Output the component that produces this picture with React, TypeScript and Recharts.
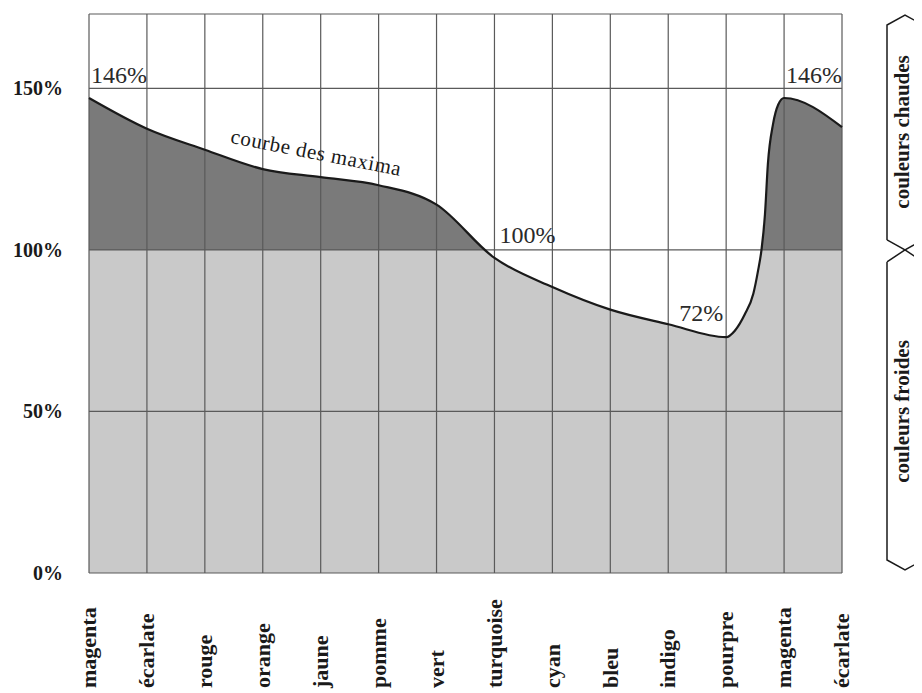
import React from 'react';
import {
  Area,
  ComposedChart,
  Line,
  ReferenceDot,
  ReferenceLine,
  XAxis,
  YAxis,
} from 'recharts';

const CATEGORIES = [
  'magenta', 'écarlate', 'rouge', 'orange', 'jaune', 'pomme', 'vert',
  'turquoise', 'cyan', 'bleu', 'indigo', 'pourpre', 'magenta', 'écarlate',
];
// positions along the colour wheel (category index) and max saturation in %
const CURVE_POS = [0, 1, 2, 3, 4, 5, 6, 7, 8, 9, 10, 11, 11.15, 11.32, 11.47, 11.55, 11.61, 11.67, 11.72, 11.81, 11.9, 12, 13];
const CURVE_PCT = [147, 137.5, 131, 125, 122.5, 120, 114, 97.5, 88.5, 81.5, 77, 73, 75, 80, 86.5, 93.5, 100, 111, 126.5, 139, 145, 147, 138];
const Y_TICKS = [0, 50, 100, 150];
const Y_MAX = 173;
const SPLIT = 100;

const CALLOUT_TEXT = ['146%', '146%', '100%', '72%'];
const CALLOUT_POS = [0, 12, 7, 11];
const CALLOUT_PCT = [147, 147, 100, 73];

const W = 914;
const H = 685;
const TOP = 6;
const LEFT = 81;
const RIGHT = 80;
const X_AXIS_H = 120;
const PLOT_H = H - TOP - X_AXIS_H;

const SERIF = "'Liberation Serif', 'Times New Roman', serif";
const GRID = '#5a5a5a';

const data = CURVE_POS.map((x, i) => ({ x, v: CURVE_PCT[i] }));
const xTicks = CATEGORIES.map((_, i) => i);

// small pixel nudges for each callout: [dx, dy, anchor]
const CALLOUT_NUDGE: [number, number, 'start' | 'end'][] = [
  [2, -15, 'start'],
  [2, -15, 'start'],
  [5, -7, 'start'],
  [-3, -16, 'end'],
];

export default function App() {
  const y100 = TOP + PLOT_H * (1 - SPLIT / Y_MAX);
  const plotBottom = TOP + PLOT_H;
  const bx = 897;

  return (
    <div style={{ position: 'relative', width: W, height: H }}>
      <ComposedChart
        width={W}
        height={H}
        data={data}
        margin={{ top: TOP, right: RIGHT, left: LEFT - 60, bottom: 0 }}
      >
        <defs>
          <linearGradient id="splitFill" gradientUnits="userSpaceOnUse" x1="0" y1={TOP} x2="0" y2={plotBottom}>
            <stop offset={1 - SPLIT / Y_MAX} stopColor="#7a7a7a" />
            <stop offset={1 - SPLIT / Y_MAX} stopColor="#c9c9c9" />
          </linearGradient>
        </defs>
        <XAxis
          dataKey="x"
          type="number"
          domain={[0, CATEGORIES.length - 1]}
          ticks={xTicks}
          interval={0}
          height={X_AXIS_H}
          axisLine={false}
          tickLine={false}
          tickSize={0}
          tickMargin={0}
          tick={(p: any) => (
            <text
              x={p.x}
              y={plotBottom + 115}
              transform={`rotate(-90, ${p.x}, ${plotBottom + 115})`}
              textAnchor="start"
              dy="0.33em"
              fontFamily={SERIF}
              fontWeight="bold"
              fontSize={22}
              fill="#1a1a1a"
            >
              {CATEGORIES[p.payload.value]}
            </text>
          )}
        />
        <YAxis
          type="number"
          domain={[0, Y_MAX]}
          ticks={Y_TICKS}
          width={60}
          axisLine={false}
          tickLine={false}
          tickSize={0}
          tickMargin={26}
          tick={(p: any) => (
            <text
              x={LEFT - 26}
              y={p.y}
              textAnchor="end"
              dy="0.35em"
              fontFamily={SERIF}
              fontWeight="bold"
              fontSize={20}
              fill="#1a1a1a"
            >
              {`${p.payload.value}%`}
            </text>
          )}
        />
        <Area
          dataKey="v"
          type="monotone"
          stroke="none"
          fill="url(#splitFill)"
          fillOpacity={1}
          isAnimationActive={false}
        />
        {xTicks.map((t) => (
          <ReferenceLine key={`vx${t}`} x={t} stroke={GRID} strokeWidth={1.2} />
        ))}
        {Y_TICKS.map((t) => (
          <ReferenceLine key={`hy${t}`} y={t} stroke={GRID} strokeWidth={1.2} />
        ))}
        <ReferenceLine y={Y_MAX} stroke={GRID} strokeWidth={1.2} />
        <Line
          dataKey="v"
          type="monotone"
          stroke="#1a1a1a"
          strokeWidth={2.2}
          dot={false}
          isAnimationActive={false}
        />
        {CALLOUT_TEXT.map((txt, i) => (
          <ReferenceDot
            key={`c${i}`}
            x={CALLOUT_POS[i]}
            y={CALLOUT_PCT[i]}
            r={0}
            shape={(p: any) => (
              <text
                x={p.cx + CALLOUT_NUDGE[i][0]}
                y={p.cy + CALLOUT_NUDGE[i][1]}
                textAnchor={CALLOUT_NUDGE[i][2]}
                fontFamily={SERIF}
                fontSize={24}
                fill="#2a2a2a"
              >
                {txt}
              </text>
            )}
          />
        ))}
        <ReferenceDot
          x={3.9}
          y={128}
          r={0}
          shape={(p: any) => (
            <text
              x={p.cx}
              y={p.cy}
              transform={`rotate(11, ${p.cx}, ${p.cy})`}
              textAnchor="middle"
              fontFamily={SERIF}
              fontSize={21}
              letterSpacing={0.6}
              fill="#1a1a1a"
            >
              courbe des maxima
            </text>
          )}
        />
      </ComposedChart>
      <svg
        width={W}
        height={H}
        style={{ position: 'absolute', left: 0, top: 0, pointerEvents: 'none' }}
      >
        <g fill="none" stroke="#1a1a1a" strokeWidth={1.5}>
          <polyline
            points={`${bx - 18},${y100 - 10} ${bx - 18},${TOP + 11} ${bx},${TOP + 1} ${bx + 18},${TOP + 11} ${bx + 18},${y100 - 10} ${bx},${y100} ${bx - 18},${y100 - 10}`}
          />
          <polyline
            points={`${bx - 18},${y100 + 12} ${bx},${y100} ${bx + 18},${y100 + 12} ${bx + 18},${plotBottom - 13} ${bx},${plotBottom - 3} ${bx - 18},${plotBottom - 13} ${bx - 18},${y100 + 12}`}
          />
        </g>
        <text
          x={bx - 3}
          y={(TOP + y100) / 2}
          transform={`rotate(-90, ${bx - 3}, ${(TOP + y100) / 2})`}
          textAnchor="middle"
          dy="0.35em"
          fontFamily={SERIF}
          fontWeight="bold"
          fontSize={21}
          fill="#1a1a1a"
        >
          couleurs chaudes
        </text>
        <text
          x={bx - 3}
          y={(y100 + plotBottom) / 2}
          transform={`rotate(-90, ${bx - 3}, ${(y100 + plotBottom) / 2})`}
          textAnchor="middle"
          dy="0.35em"
          fontFamily={SERIF}
          fontWeight="bold"
          fontSize={21}
          fill="#1a1a1a"
        >
          couleurs froides
        </text>
      </svg>
    </div>
  );
}
